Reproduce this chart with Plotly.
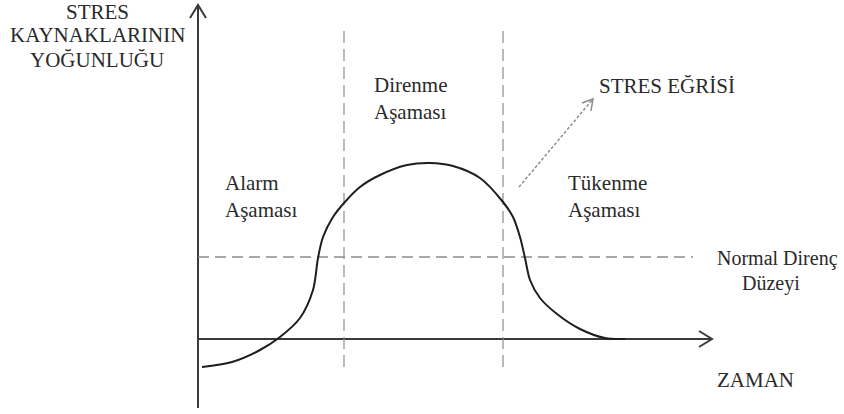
import plotly.graph_objects as go

# Stress curve (time on x, intensity on y; origin where the two axes cross)
curve_time = [4, 34, 62, 82, 102, 115, 120, 125, 135, 146, 162, 182, 209, 232,
              255, 282, 305, 315, 322, 327, 332, 342, 359, 382, 407, 427]
curve_level = [-28, -23, -11, 2, 21, 49, 81, 102, 122, 136, 152, 164, 174, 176,
               173, 161, 137, 122, 102, 81, 59, 41, 25, 10, 1, 0]

phase_bounds = [146, 305]          # alarm -> direnme -> tükenme
normal_level = 82                  # normal direnç düzeyi
time_end = 514                     # tip of the time axis
level_top = 334                    # tip of the intensity axis
level_bottom = -69
guide_top, guide_bottom = 311, -28
normal_end = 495

stage_labels = ["Alarm<br>Aşaması", "Direnme<br>Aşaması", "Tükenme<br>Aşaması"]
stage_x = [25, 174, 368]
stage_y = [143, 241, 143]

yaxis_lines = ["STRES", "KAYNAKLARININ", "YOĞUNLUĞU"]
yaxis_line_y = [327, 304, 279]

pointer_from = (321, 152)
pointer_to = (395, 240)

FONT = "Liberation Serif, Times New Roman, serif"
TXT = "#2a2a2a"
AX = "#3a3a3a"
GUIDE = "#8c8c8c"

fig = go.Figure()

# axes with open arrow heads
fig.add_trace(go.Scatter(x=[0, 0], y=[level_bottom, level_top], mode="lines",
                         line=dict(color=AX, width=2), hoverinfo="skip"))
fig.add_trace(go.Scatter(x=[-8, 0, 8], y=[level_top - 13, level_top, level_top - 13], mode="lines",
                         line=dict(color=AX, width=2), hoverinfo="skip"))
fig.add_trace(go.Scatter(x=[0, time_end], y=[0, 0], mode="lines",
                         line=dict(color=AX, width=2), hoverinfo="skip"))
fig.add_trace(go.Scatter(x=[time_end - 13, time_end, time_end - 13], y=[8, 0, -8], mode="lines",
                         line=dict(color=AX, width=2), hoverinfo="skip"))

# dashed guides
for bx in phase_bounds:
    fig.add_trace(go.Scatter(x=[bx, bx], y=[guide_bottom, guide_top], mode="lines",
                             line=dict(color=GUIDE, width=1.2, dash="12px,6px"), hoverinfo="skip"))
fig.add_trace(go.Scatter(x=[0, normal_end], y=[normal_level, normal_level], mode="lines",
                         line=dict(color=GUIDE, width=1.5, dash="11px,6px"), hoverinfo="skip"))

# stress curve
fig.add_trace(go.Scatter(x=curve_time, y=curve_level, mode="lines",
                         line=dict(color="#1e1e1e", width=2, shape="spline", smoothing=0.9),
                         hoverinfo="skip"))

# dotted pointer to "STRES EĞRİSİ"
fx, fy = pointer_from
tx, ty = pointer_to
fig.add_trace(go.Scatter(x=[fx, tx], y=[fy, ty], mode="lines",
                         line=dict(color=GUIDE, width=1.5, dash="3px,2px"), hoverinfo="skip"))
fig.add_trace(go.Scatter(x=[tx - 11, tx, tx - 2], y=[ty - 4, ty, ty - 12], mode="lines",
                         line=dict(color=GUIDE, width=1.5), hoverinfo="skip"))

annotations = [
    dict(x=399, y=253, text="STRES EĞRİSİ", xanchor="left"),
    dict(x=517, y=81, text="Normal Direnç", xanchor="left", size=20),
    dict(x=573, y=56, text="Düzeyi", xanchor="center", size=20),
    dict(x=517, y=-41, text="ZAMAN", xanchor="left"),
]
for line, ly in zip(yaxis_lines, yaxis_line_y):
    annotations.append(dict(x=-101, y=ly, text=line, xanchor="center"))
for lab, sx, sy in zip(stage_labels, stage_x, stage_y):
    annotations.append(dict(x=sx, y=sy, text=lab, xanchor="left", align="left"))

for a in annotations:
    size = a.pop("size", 21)
    a.update(xref="x", yref="y", showarrow=False, yanchor="middle",
             font=dict(family=FONT, size=size, color=TXT))
    a.setdefault("align", "center")
fig.update_layout(annotations=annotations)

fig.update_layout(
    width=844, height=414,
    margin=dict(l=0, r=0, t=0, b=0),
    paper_bgcolor="white", plot_bgcolor="white",
    showlegend=False,
    xaxis=dict(range=[-198, 646], visible=False, fixedrange=True),
    yaxis=dict(range=[-75, 339], visible=False, fixedrange=True),
)

# drop the default 8px page margin so the figure fills the window
fig.write_html("out.html", config={"displayModeBar": False},
               post_script="document.body.style.margin='0';document.body.style.overflow='hidden';")
